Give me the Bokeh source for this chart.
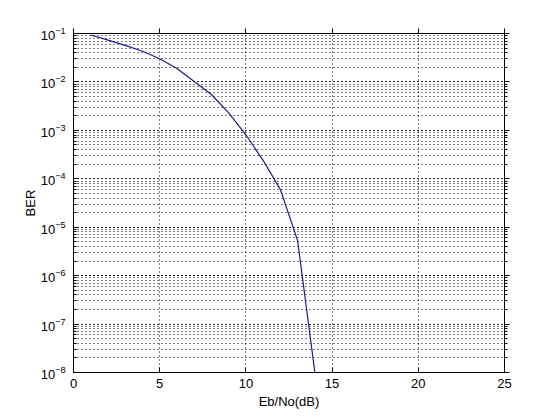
from bokeh.plotting import figure
from bokeh.models import LinearAxis, LogAxis, FixedTicker, LogTicker, Range1d
from bokeh.embed import file_html
from bokeh.resources import INLINE

ebno_db = [1, 2, 3, 4, 5, 6, 7, 8, 9, 10, 11, 12, 13, 14]
ber = [0.093, 0.073, 0.057, 0.043, 0.030, 0.019, 0.0102, 0.0055, 0.0023,
       8.1e-4, 2.4e-4, 6.0e-5, 5.3e-6, 1.0e-8]
x_ticks = [0, 5, 10, 15, 20, 25]
x_label = "Eb/No(dB)"
y_label = "BER"

FONT = "Liberation Sans"

p = figure(width=552, height=412, y_axis_type="log",
           x_range=Range1d(0, 25), y_range=Range1d(1e-8, 1e-1),
           output_backend="svg", toolbar_location=None,
           min_border_left=73, min_border_right=48,
           min_border_top=33, min_border_bottom=40)
p.background_fill_color = "white"
p.border_fill_color = "white"
p.outline_line_color = "black"
p.outline_line_width = 1

p.line(ebno_db, ber, line_color="#1a1a90", line_width=1.2)

def style_axis(ax, labels=True):
    ax.major_tick_in = 5
    ax.major_tick_out = 0
    ax.minor_tick_in = 3
    ax.minor_tick_out = 0
    ax.axis_line_color = "black"
    ax.major_tick_line_color = "black"
    ax.minor_tick_line_color = "black"
    ax.major_label_text_font = FONT
    ax.major_label_text_font_size = "13px"
    ax.major_label_text_color = "black"
    ax.axis_label_text_font = FONT
    ax.axis_label_text_font_size = "13px"
    ax.axis_label_text_font_style = "normal"
    ax.axis_label_text_color = "black"
    if not labels:
        ax.major_label_text_font_size = "0px"
        ax.major_label_text_alpha = 0

xax = p.xaxis[0]
xax.ticker = FixedTicker(ticks=x_ticks, minor_ticks=[])
xax.axis_label = x_label
style_axis(xax)
xax.major_label_standoff = 6
xax.axis_label_standoff = 3

yax = p.yaxis[0]
yax.ticker = LogTicker(num_minor_ticks=10)
yax.axis_label = y_label
style_axis(yax)
yax.major_label_standoff = 8
yax.axis_label_standoff = 0

top = LinearAxis(ticker=FixedTicker(ticks=x_ticks, minor_ticks=[]))
style_axis(top, labels=False)
top.major_tick_in = 0
top.major_tick_out = 5
p.add_layout(top, "above")

right = LogAxis(ticker=LogTicker(num_minor_ticks=10))
style_axis(right, labels=False)
right.major_tick_in = 0
right.major_tick_out = 5
right.minor_tick_in = 0
right.minor_tick_out = 3
p.add_layout(right, "right")

p.xgrid.ticker = FixedTicker(ticks=x_ticks)
p.xgrid.grid_line_color = "black"
p.xgrid.grid_line_dash = "1 3"
p.xgrid.grid_line_width = 1
p.ygrid.grid_line_color = "black"
p.ygrid.grid_line_dash = "1 3"
p.ygrid.minor_grid_line_color = "black"
p.ygrid.minor_grid_line_dash = "1 3"

open("out.html", "w").write(file_html(p, INLINE))
